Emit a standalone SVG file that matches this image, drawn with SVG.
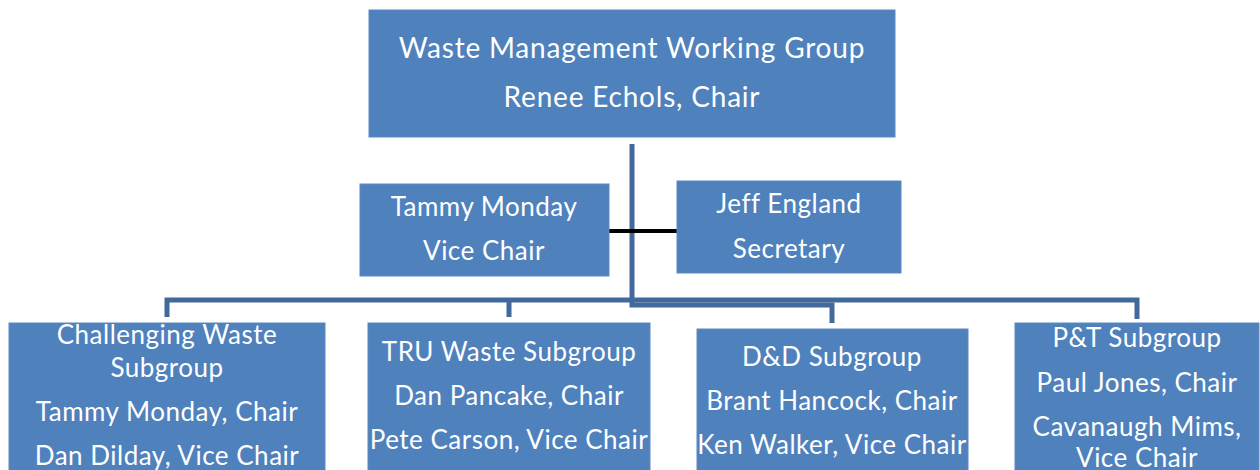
<svg xmlns="http://www.w3.org/2000/svg" width="1260" height="470" viewBox="0 0 1260 470">
<style>
.box{fill:#4F81BD;stroke:#5B8AC2;stroke-width:1}
.t{font-family:Lato,"Open Sans","Liberation Sans",sans-serif;fill:#fff;text-anchor:middle}
.big{font-size:28px;letter-spacing:0.8px}
.mid{font-size:26px;letter-spacing:0.5px}
.conn{fill:none;stroke:#41699B;stroke-width:5}
</style>
<rect width="1260" height="470" fill="#fff"/>
<g id="connectors">
<path class="conn" d="M632,144 V305 H832 V323"/>
<path class="conn" d="M167,317 V300 H1137 V319"/>
<path class="conn" d="M509,300 V317"/>
<path d="M607,231 H679" fill="none" stroke="#000" stroke-width="4" stroke-linecap="round"/>
</g>
<g id="wmwg">
<rect class="box" x="369" y="10" width="526" height="127"/>
<text class="t big" x="632" y="58">Waste Management Working Group</text>
<text class="t big" x="632" y="107">Renee Echols, Chair</text>
</g>
<g id="vicechair">
<rect class="box" x="360" y="184" width="249" height="92"/>
<text class="t mid" x="484" y="216">Tammy Monday</text>
<text class="t mid" x="484" y="260">Vice Chair</text>
</g>
<g id="secretary">
<rect class="box" x="677" y="181" width="224" height="92"/>
<text class="t mid" x="789" y="213">Jeff England</text>
<text class="t mid" x="789" y="258">Secretary</text>
</g>
<g id="challenging">
<rect class="box" x="9" y="323" width="316" height="160"/>
<text class="t mid" x="167" y="344">Challenging Waste</text>
<text class="t mid" x="167" y="377">Subgroup</text>
<text class="t mid" x="167" y="421">Tammy Monday, Chair</text>
<text class="t mid" x="167" y="465">Dan Dilday, Vice Chair</text>
</g>
<g id="tru">
<rect class="box" x="368" y="323" width="282" height="160"/>
<text class="t mid" x="509" y="361">TRU Waste Subgroup</text>
<text class="t mid" x="509" y="405">Dan Pancake, Chair</text>
<text class="t mid" x="509" y="449">Pete Carson, Vice Chair</text>
</g>
<g id="dd">
<rect class="box" x="697" y="329" width="271" height="160"/>
<text class="t mid" x="832" y="366">D&amp;D Subgroup</text>
<text class="t mid" x="832" y="410">Brant Hancock, Chair</text>
<text class="t mid" x="832" y="454">Ken Walker, Vice Chair</text>
</g>
<g id="pt">
<rect class="box" x="1015" y="323" width="244" height="160"/>
<text class="t mid" x="1137" y="347">P&amp;T Subgroup</text>
<text class="t mid" x="1137" y="392">Paul Jones, Chair</text>
<text class="t mid" x="1137" y="436">Cavanaugh Mims,</text>
<text class="t mid" x="1137" y="467">Vice Chair</text>
</g>
</svg>
